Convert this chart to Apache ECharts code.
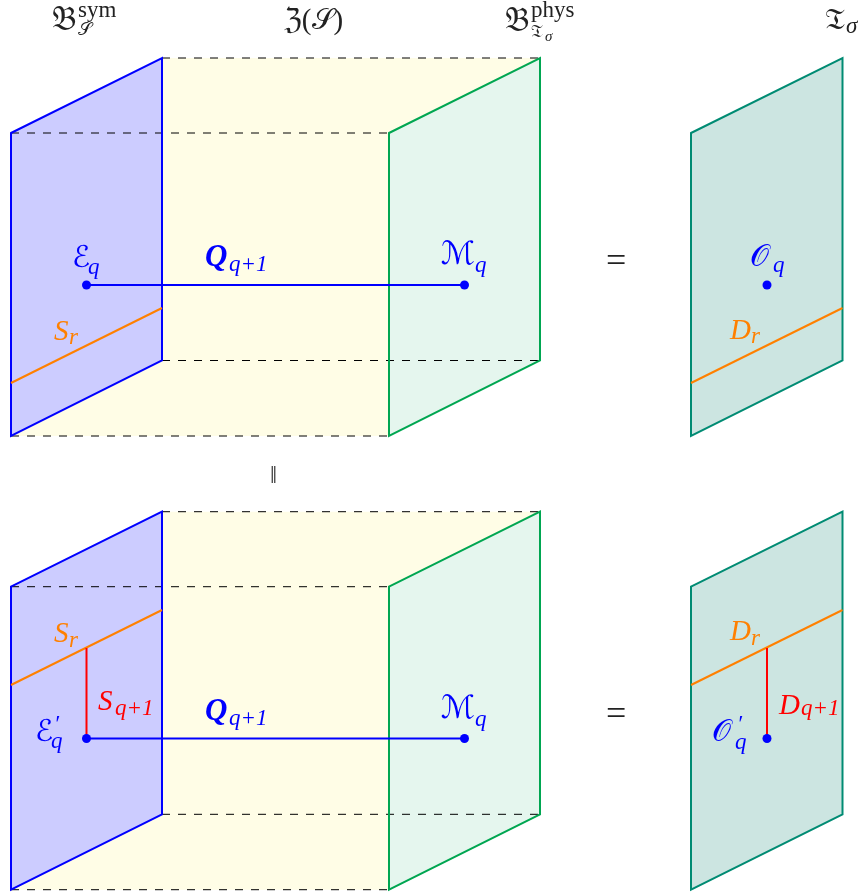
<!DOCTYPE html>
<html><head><meta charset="utf-8">
<style>html,body{margin:0;padding:0;background:#fff}#c{width:862px;height:894px}</style>
<script src="https://cdn.jsdelivr.net/npm/echarts@6/dist/echarts.min.js"></script>
</head><body><div id="c"></div>
<script>
// Panels: polygon outlines as [x, y] values on the hidden axes
const panelTop = {
  bulk:  [[162,58],[540,58],[540,360.5],[389,436],[11,436],[11,133]],
  sym:   [[11,133],[162,58],[162,360.5],[11,436]],
  phys:  [[389,133],[540,58],[540,360.5],[389,436]],
  theory:[[691,133],[842.5,58],[842.5,360.5],[691,436]]
};
const panelBottom = {
  bulk:  [[162,511.7],[540,511.7],[540,814.3],[389,889.7],[11,889.7],[11,586.7]],
  sym:   [[11,586.7],[162,511.7],[162,814.3],[11,889.7]],
  phys:  [[389,586.7],[540,511.7],[540,814.3],[389,889.7]],
  theory:[[691,586.7],[842.5,511.7],[842.5,814.3],[691,889.7]]
};
// Dashed box edges
const dashedEdges = [
  [[162,58],[540,58]],[[11,133],[389,133]],[[162,360.5],[540,360.5]],[[11,436],[389,436]],
  [[162,511.7],[540,511.7]],[[11,586.7],[389,586.7]],[[162,814.3],[540,814.3]],[[11,889.7],[389,889.7]]
];
// Coloured segments
const blueLines   = [[[86.5,285],[464.5,285]],[[86.5,738.5],[464.5,738.5]]];
const orangeLines = [[[11,383],[162,308]],[[691,383],[842.5,308]],[[11,685],[162,610]],[[691,685],[842.5,610]]];
const redLines    = [[[86.5,648],[86.5,738.5]],[[767,648],[767,738.5]]];
const dots = [[86.5,285],[464.5,285],[767,285],[86.5,738.5],[464.5,738.5],[767,738.5]];
// Text fragments: x, y, string, style key
const textItems = [
  [52,21,'𝔅','frak'],[78,11,'sym','sup'],[78,30,'𝒮','subS'],
  [284,21,'ℨ(𝒮)','headWide'],
  [505,22,'𝔅','frak'],[531,11,'phys','sup'],[531,32,'𝔗','subS'],[545,37,'σ','tiny'],
  [825,21,'𝔗','frakT'],[846,27,'σ','subI'],
  [72,259,'ℰ','blueScript'],[88,268,'q','blueSub'],
  [205,258,'Q','blueBold'],[229,265,'q+1','blueSub'],
  [441,256,'ℳ','blueM'],[475,266,'q','blueSub'],
  [750,258,'𝒪','blueScript'],[773,266,'q','blueSub'],
  [606,263,'=','eq'],[270,476,'‖','small'],
  [54,332,'S','orange'],[69,338,'r','orangeSub'],
  [730,331,'D','orange'],[751,337,'r','orangeSub'],
  [54,634,'S','orange'],[69,641,'r','orangeSub'],
  [730,632,'D','orange'],[751,639,'r','orangeSub'],
  [98,702,'S','red'],[115,709,'q+1','redSub'],
  [779,706,'D','red'],[801,709,'q+1','redSub'],
  [35,733,'ℰ','blueScript'],[54,725,'′','blueSub'],[51,742,'q','blueSub'],
  [205,712,'Q','blueBold'],[229,719,'q+1','blueSub'],
  [441,710,'ℳ','blueM'],[475,720,'q','blueSub'],
  [712,733,'𝒪','blueScript'],[737,725,'′','blueSub'],[735,743,'q','blueSub'],
  [606,716,'=','eq']
];

const serif = '"Liberation Serif","DejaVu Serif","DejaVu Sans"';
const textStyles = {
  frak:{font:`34px ${serif}`,fill:'#222'}, frakT:{font:`30px ${serif}`,fill:'#222'},
  headWide:{font:`29px ${serif}`,fill:'#222'}, eq:{font:`36px ${serif}`,fill:'#222'},
  sup:{font:`23px ${serif}`,fill:'#222'},
  subS:{font:`18px ${serif}`,fill:'#222'}, tiny:{font:`italic 15px ${serif}`,fill:'#222'},
  subI:{font:`italic 23px ${serif}`,fill:'#222'}, small:{font:`25px ${serif}`,fill:'#333'},
  blueScript:{font:`30px ${serif}`,fill:'#0000ff'}, blueM:{font:`32px ${serif}`,fill:'#0000ff'},
  blueSub:{font:`italic 23px ${serif}`,fill:'#0000ff'},
  blueBold:{font:`italic bold 31px ${serif}`,fill:'#0000ff'},
  orange:{font:`italic 29px ${serif}`,fill:'#ff8000'}, orangeSub:{font:`italic 23px ${serif}`,fill:'#ff8000'},
  red:{font:`italic 29px ${serif}`,fill:'#ff0000'}, redSub:{font:`italic 23px ${serif}`,fill:'#ff0000'}
};
const C = {blue:'#0000ff',green:'#00a651',teal:'#008b73',orange:'#ff8000',red:'#ff0000',
  fillBulk:'#fffde6',fillSym:'#ccccff',fillPhys:'#e5f6ee',fillTheory:'#cce5e1'};
const strokeW = 2;

function polySeries(polys, fill, stroke, z){
  return {type:'custom',coordinateSystem:'cartesian2d',silent:true,animation:false,z,clip:false,
    data:polys.map((_,i)=>i),encode:{x:[],y:[]},
    renderItem(p,api){
      return {type:'polygon',shape:{points:polys[api.value(0)].map(c=>api.coord(c))},
        style:{fill:fill,stroke:stroke||null,lineWidth:strokeW,lineJoin:'miter'}};
    }};
}
function segSeries(segs,color,width,z,dash){
  return {type:'custom',coordinateSystem:'cartesian2d',silent:true,animation:false,z,clip:false,
    data:segs.map((_,i)=>i),encode:{x:[],y:[]},
    renderItem(p,api){
      const s=segs[api.value(0)],a=api.coord(s[0]),b=api.coord(s[1]);
      return {type:'line',shape:{x1:a[0],y1:a[1],x2:b[0],y2:b[1]},
        style:{stroke:color,lineWidth:width,lineDash:dash||null,fill:null}};
    }};
}
const chart = echarts.init(document.getElementById('c'),null,{renderer:'canvas'});
chart.setOption({
  animation:false,backgroundColor:'#fff',
  grid:{left:0,right:0,top:0,bottom:0,containLabel:false},
  xAxis:{type:'value',min:0,max:862,show:false},
  yAxis:{type:'value',min:0,max:894,inverse:true,show:false},
  series:[
    polySeries([panelTop.bulk,panelBottom.bulk],C.fillBulk,null,1),
    polySeries([panelTop.phys,panelBottom.phys],C.fillPhys,null,2),
    polySeries([panelTop.sym,panelBottom.sym],C.fillSym,null,2),
    polySeries([panelTop.theory,panelBottom.theory],C.fillTheory,null,2),
    segSeries(dashedEdges,'#000',1,3,[8,8]),
    polySeries([panelTop.phys,panelBottom.phys],'none',C.green,4),
    polySeries([panelTop.sym,panelBottom.sym],'none',C.blue,4),
    polySeries([panelTop.theory,panelBottom.theory],'none',C.teal,4),
    segSeries(orangeLines,C.orange,strokeW,5),
    segSeries(blueLines,C.blue,strokeW,5),
    segSeries(redLines,C.red,strokeW,5),
    {type:'scatter',data:dots,symbol:'circle',symbolSize:9,itemStyle:{color:C.blue,opacity:1},silent:true,z:6,animation:false},
    {type:'custom',coordinateSystem:'cartesian2d',silent:true,animation:false,z:7,clip:false,
     data:textItems.map((_,i)=>i),encode:{x:[],y:[]},
     renderItem(p,api){
       const t=textItems[api.value(0)],c=api.coord([t[0],t[1]]),st=textStyles[t[3]];
       return {type:'text',style:{text:t[2],x:c[0],y:c[1],font:st.font,fill:st.fill,textAlign:'left',textVerticalAlign:'middle'}};
     }}
  ]
});
</script></body></html>
